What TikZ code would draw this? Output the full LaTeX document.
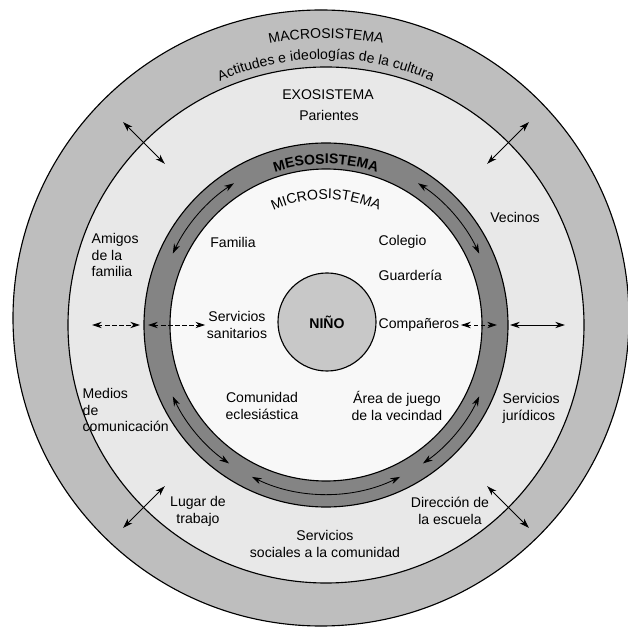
\documentclass[tikz,border=0pt]{standalone}
\usepackage{fontspec}
\setmainfont{Liberation Sans}
\usetikzlibrary{arrows.meta, positioning, decorations.text}
\definecolor{macrogray}{RGB}{190,190,190}
\definecolor{exogray}{RGB}{232,232,232}
\definecolor{mesogray}{RGB}{132,132,132}
\definecolor{microgray}{RGB}{248,248,248}
\definecolor{ninogray}{RGB}{200,200,200}

\begin{document}
\begin{tikzpicture}[x=0.025cm, y=0.025cm, font=\fontsize{10}{12}\selectfont,
    ring/.style={draw=black, line width=0.8pt},
    lbl/.style={align=center, inner sep=1pt},
    link/.style={{Stealth[length=7pt,width=4.5pt]}-{Stealth[length=7pt,width=4.5pt]}, line width=0.6pt},
    arctext/.style={decorate, decoration={text along path, text align=center, text={#1}}}]

  \useasboundingbox (-326,-305) rectangle (302,325);
  \fill[white] (-326,-305) rectangle (302,325);

  % rings
  \filldraw[ring, fill=macrogray] (-5,7) circle (308);
  \filldraw[ring, fill=exogray] (0,0) circle (258);
  \filldraw[ring, fill=mesogray] (0,0) circle (182);
  \filldraw[ring, fill=microgray] (0,0) circle (156);
  \node[circle, ring, fill=ninogray, minimum size=2.45cm, inner sep=0pt] (nino) at (1,3) {\textbf{NIÑO}};

  % curved titles
  \path[arctext={MACROSISTEMA}] (125:287) arc[start angle=125, end angle=55, radius=287];
  \path[arctext={Actitudes e ideologías de la cultura}] (140:266) arc[start angle=140, end angle=40, radius=266];
  \path[arctext={|\bfseries|MESOSISTEMA}] (135:161) arc[start angle=135, end angle=45, radius=161];
  \path[arctext={MICROSISTEMA}] (140:126) arc[start angle=140, end angle=40, radius=126];

  % exosistema
  \node[lbl] (exo) at (2,230) {EXOSISTEMA};
  \node[lbl] (parientes) at (3,210) {Parientes};
  \node[lbl, align=left, anchor=west] (amigos) at (-236,70) {Amigos\\de la\\familia};
  \node[lbl] (vecinos) at (189,108) {Vecinos};
  \node[lbl, align=left, anchor=west] (medios) at (-245,-85) {Medios\\de\\comunicación};
  \node[lbl, align=left, anchor=west] (juridicos) at (175,-83) {Servicios\\jurídicos};
  \node[lbl] (trabajo) at (-128,-186) {Lugar de\\trabajo};
  \node[lbl] (sociales) at (-1,-219) {Servicios\\sociales a la comunidad};
  \node[lbl] (direccion) at (124,-186) {Dirección de\\la escuela};

  % microsistema
  \node[lbl] (familia) at (-93,83) {Familia};
  \node[lbl, anchor=west] (colegio) at (51,83) {Colegio};
  \node[lbl, anchor=west] (guarderia) at (51,50) {Guardería};
  \node[lbl] (sanitarios) at (-89,0) {Servicios\\sanitarios};
  \node[lbl, anchor=west] (companeros) at (51,0) {Compañeros};
  \node[lbl] (eclesiastica) at (-64,-81) {Comunidad\\eclesiástica};
  \node[lbl] (vecindad) at (71,-81) {Área de juego\\de la vecindad};

  % horizontal links
  \coordinate (la) at (-234,0);
  \coordinate (lb) at (-186,0);
  \coordinate (lc) at (-178,0);
  \coordinate (ra) at (171,0);
  \coordinate (rb) at (184,0);
  \coordinate (rc) at (239,0);
  \draw[link, densely dashed] (la) -- (lb);
  \draw[link, densely dashed] (lc) -- (sanitarios.west);
  \draw[link, densely dashed] (companeros.east) -- (ra);
  \draw[link] (rb) -- (rc);

  % diagonal links across the macro boundary
  \foreach \a in {45,135,225,315} {
    \coordinate (din\a) at (\a:228);
    \coordinate (dout\a) at (\a:287);
    \draw[link] (din\a) -- (dout\a);
  }

  % arcs in the mesosistema
  \foreach \s/\e in {25/57, 123/155, 205/235, 244/296, 305/335}
    \draw[link] (\s:169) arc[start angle=\s, end angle=\e, radius=169];
\end{tikzpicture}
\end{document}
